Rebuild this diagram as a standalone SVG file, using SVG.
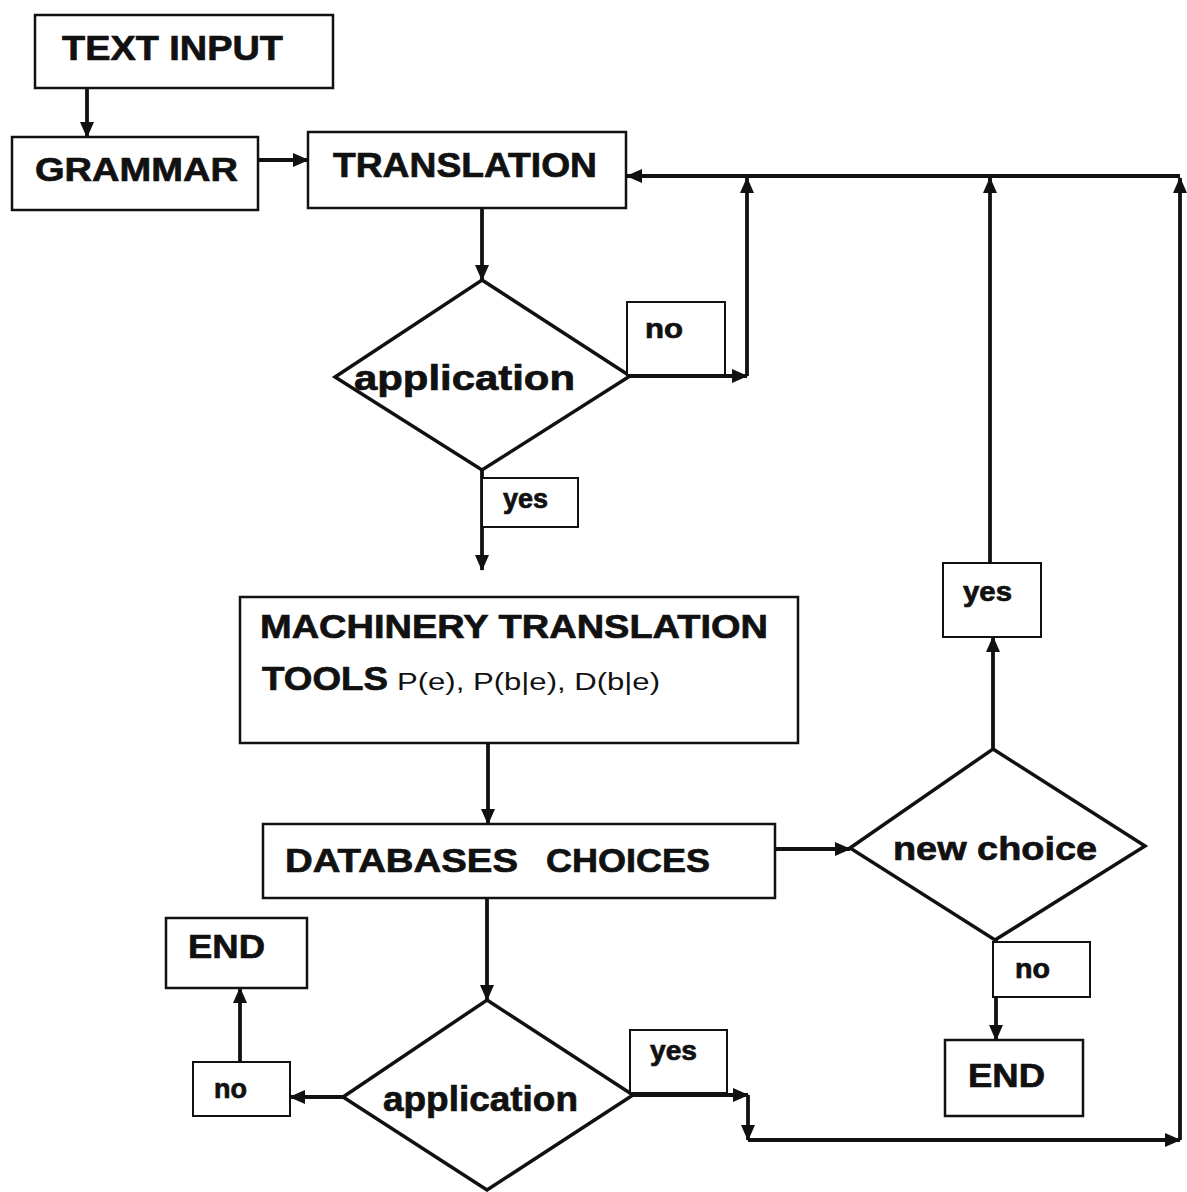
<svg xmlns="http://www.w3.org/2000/svg" width="1187" height="1192" viewBox="0 0 1187 1192">
<defs>
<style>
.box{fill:#fff;stroke:#111;stroke-width:2.5}
.dia{fill:#fff;stroke:#111;stroke-width:3.5}
.lbl{fill:#fff;stroke:#111;stroke-width:2}
.t{font-family:"Liberation Sans",Arial,sans-serif;font-weight:bold;fill:#111;stroke:#111;stroke-width:0.7}
.r{font-family:"Liberation Sans",Arial,sans-serif;font-weight:normal;fill:#111}
.c{fill:none;stroke:#111;stroke-width:3.8}
</style>
<marker id="ah" markerUnits="userSpaceOnUse" markerWidth="16" markerHeight="14" refX="15" refY="7" orient="auto">
<path d="M0,0 L16,7 L0,14 z" fill="#111"/>
</marker>
</defs>
<rect width="1187" height="1192" fill="#fff"/>

<g id="connectors">
<path class="c" d="M87,88 V137" marker-end="url(#ah)"/>
<path class="c" d="M258,160 H308" marker-end="url(#ah)"/>
<path class="c" d="M482,208 V280" marker-end="url(#ah)"/>
<path class="c" d="M630,376 H747" marker-end="url(#ah)"/>
<path class="c" d="M747,376 V178" marker-end="url(#ah)"/>
<path class="c" d="M1180,176 H627" marker-end="url(#ah)"/>
<path class="c" d="M990,563 V178" marker-end="url(#ah)"/>
<path class="c" d="M1180,1140 V178" marker-end="url(#ah)"/>
<path class="c" d="M482,470 V570" marker-end="url(#ah)"/>
<path class="c" d="M488,743 V824" marker-end="url(#ah)"/>
<path class="c" d="M775,849 H850" marker-end="url(#ah)"/>
<path class="c" d="M993,749 V637" marker-end="url(#ah)"/>
<path class="c" d="M996,940 V1040" marker-end="url(#ah)"/>
<path class="c" d="M487,898 V1000" marker-end="url(#ah)"/>
<path class="c" d="M633,1095 H748" marker-end="url(#ah)"/>
<path class="c" d="M748,1095 V1140" marker-end="url(#ah)"/>
<path class="c" d="M748,1140 H1180" marker-end="url(#ah)"/>
<path class="c" d="M343,1097 H290" marker-end="url(#ah)"/>
<path class="c" d="M240,1062 V988" marker-end="url(#ah)"/>
</g>

<g id="text-input">
<rect class="box" x="35" y="15" width="298" height="73"/>
<text class="t" x="62" y="60" font-size="35" textLength="221" lengthAdjust="spacingAndGlyphs">TEXT INPUT</text>
</g>

<g id="grammar">
<rect class="box" x="12" y="137" width="246" height="73"/>
<text class="t" x="35" y="181" font-size="34" textLength="203" lengthAdjust="spacingAndGlyphs">GRAMMAR</text>
</g>

<g id="translation">
<rect class="box" x="308" y="132" width="318" height="76"/>
<text class="t" x="333" y="177" font-size="35" textLength="264" lengthAdjust="spacingAndGlyphs">TRANSLATION</text>
</g>

<g id="application-1">
<polygon class="dia" points="482,280 630,376 482,470 335,377"/>
<text class="t" x="354" y="390" font-size="35" textLength="221" lengthAdjust="spacingAndGlyphs">application</text>
</g>

<g id="no-1">
<rect class="lbl" x="627" y="302" width="98" height="73"/>
<text class="t" x="645" y="338" font-size="28" textLength="38" lengthAdjust="spacingAndGlyphs">no</text>
</g>

<g id="yes-1">
<rect class="lbl" x="482" y="478" width="96" height="49"/>
<text class="t" x="503" y="508" font-size="27" textLength="45" lengthAdjust="spacingAndGlyphs">yes</text>
</g>

<g id="machinery">
<rect class="box" x="240" y="597" width="558" height="146"/>
<text class="t" x="260" y="638" font-size="34" textLength="508" lengthAdjust="spacingAndGlyphs">MACHINERY TRANSLATION</text>
<text class="t" x="262" y="690" font-size="34" textLength="126" lengthAdjust="spacingAndGlyphs">TOOLS</text>
<text class="r" x="397" y="690" font-size="23" textLength="263" lengthAdjust="spacingAndGlyphs">P(e), P(b|e), D(b|e)</text>
</g>

<g id="databases">
<rect class="box" x="263" y="824" width="512" height="74"/>
<text class="t" font-size="34"><tspan x="285" y="872" textLength="233" lengthAdjust="spacingAndGlyphs">DATABASES</tspan><tspan x="546" y="872" textLength="164" lengthAdjust="spacingAndGlyphs">CHOICES</tspan></text>
</g>

<g id="new-choice">
<polygon class="dia" points="993,749 1145,846 995,940 850,848"/>
<text class="t" x="893" y="860" font-size="34" textLength="204" lengthAdjust="spacingAndGlyphs">new choice</text>
</g>

<g id="yes-2">
<rect class="lbl" x="943" y="563" width="98" height="74"/>
<text class="t" x="963" y="601" font-size="27" textLength="49" lengthAdjust="spacingAndGlyphs">yes</text>
</g>

<g id="no-2">
<rect class="lbl" x="993" y="942" width="97" height="55"/>
<text class="t" x="1015" y="978" font-size="27" textLength="35" lengthAdjust="spacingAndGlyphs">no</text>
</g>

<g id="end-2">
<rect class="box" x="945" y="1040" width="138" height="76"/>
<text class="t" x="968" y="1087" font-size="34" textLength="77" lengthAdjust="spacingAndGlyphs">END</text>
</g>

<g id="application-2">
<polygon class="dia" points="487,1000 633,1095 487,1190 343,1097"/>
<text class="t" x="383" y="1111" font-size="35" textLength="195" lengthAdjust="spacingAndGlyphs">application</text>
</g>

<g id="yes-3">
<rect class="lbl" x="630" y="1030" width="97" height="63"/>
<text class="t" x="650" y="1060" font-size="27" textLength="47" lengthAdjust="spacingAndGlyphs">yes</text>
</g>

<g id="no-3">
<rect class="lbl" x="193" y="1062" width="97" height="54"/>
<text class="t" x="214" y="1098" font-size="27" textLength="33" lengthAdjust="spacingAndGlyphs">no</text>
</g>

<g id="end-1">
<rect class="box" x="166" y="918" width="141" height="70"/>
<text class="t" x="188" y="958" font-size="34" textLength="77" lengthAdjust="spacingAndGlyphs">END</text>
</g>
</svg>
